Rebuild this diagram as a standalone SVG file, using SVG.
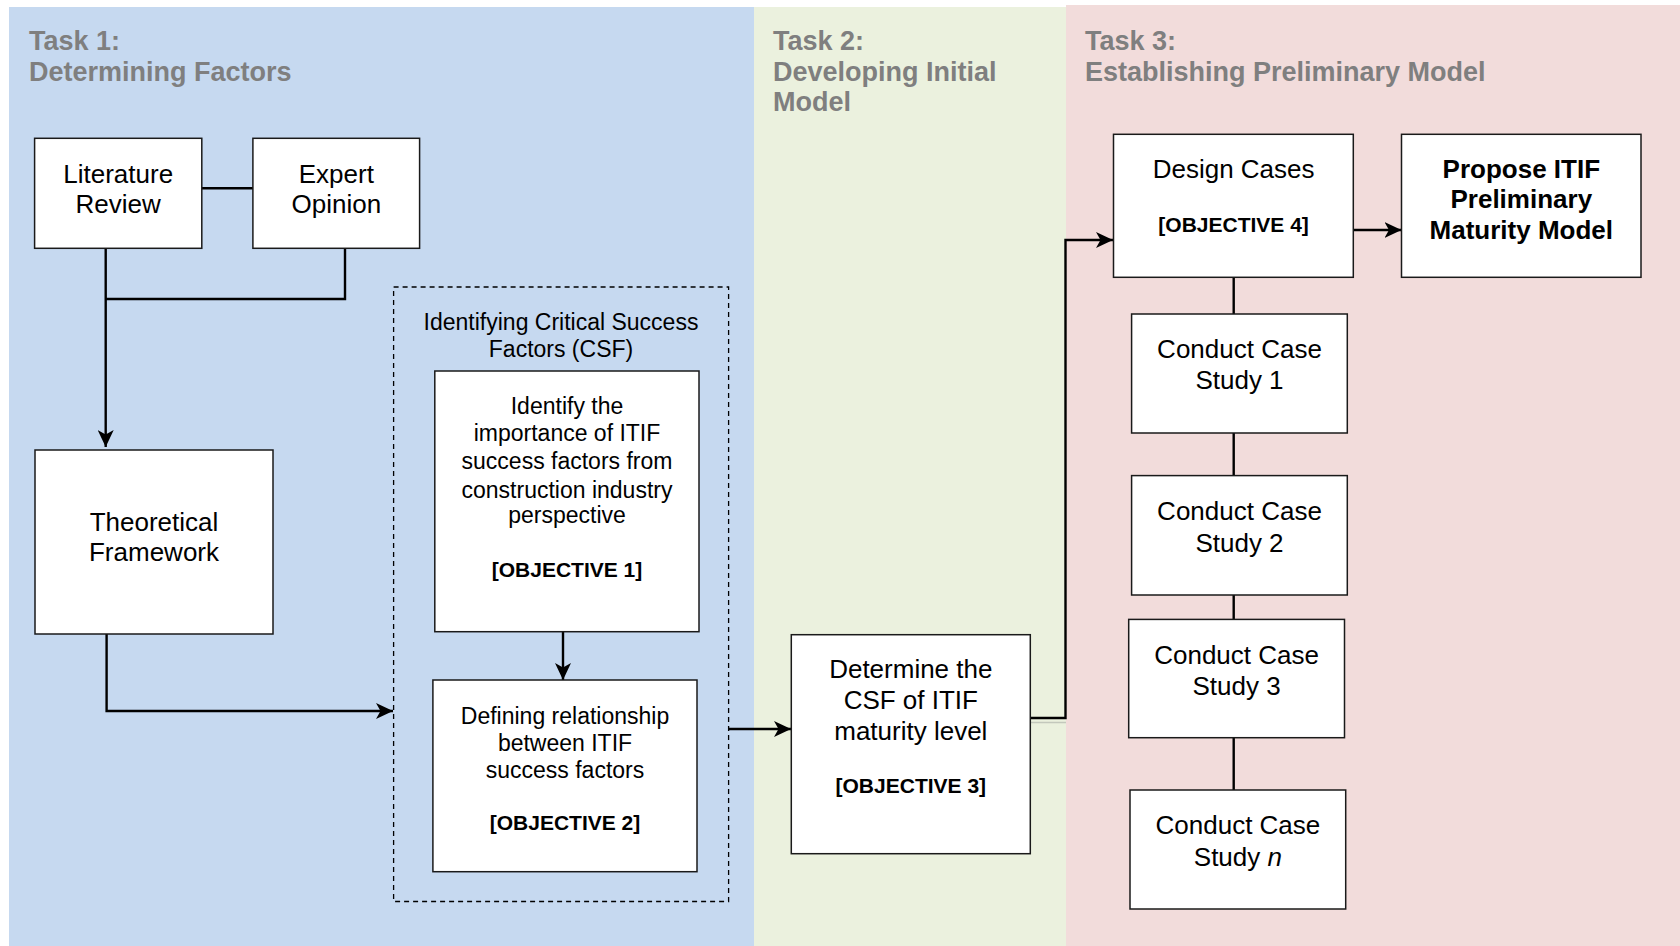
<svg xmlns="http://www.w3.org/2000/svg" width="1680" height="946" viewBox="0 0 1680 946">
<style>
text{font-family:"Liberation Sans",Arial,Helvetica,sans-serif;fill:#000}
.title{font-size:27px;font-weight:bold;fill:#7f7f7f}
.c{text-anchor:middle}
.t26{font-size:26px}
.t23{font-size:23px}
.obj{font-size:21px;font-weight:bold}
.b26{font-size:26px;font-weight:bold}
.box{fill:#fff;stroke:#1a1a1a;stroke-width:1.5}
.ln{fill:none;stroke:#000;stroke-width:2.4}
.arr{fill:none;stroke:#000;stroke-width:2.4;marker-end:url(#ah)}
</style>
<defs>
<marker id="ah" markerUnits="userSpaceOnUse" markerWidth="18" markerHeight="16" refX="17" refY="8" orient="auto">
<path d="M0,0 L17,8 L0,16 L4.5,8 Z" fill="#000"/>
</marker>
</defs>
<rect x="0" y="0" width="1680" height="946" fill="#fff"/>
<g id="panels">
<rect x="9" y="7" width="745" height="939" fill="#c6d9f0"/>
<rect x="754" y="7" width="312" height="939" fill="#ebf1de"/>
<rect x="1066" y="5" width="614" height="941" fill="#f2dcdb"/>
</g>
<g id="titles">
<text class="title" x="29" y="50">Task 1:</text>
<text class="title" x="29" y="81">Determining Factors</text>
<text class="title" x="773" y="50">Task 2:</text>
<text class="title" x="773" y="81">Developing Initial</text>
<text class="title" x="773" y="111">Model</text>
<text class="title" x="1085" y="50">Task 3:</text>
<text class="title" x="1085" y="81">Establishing Preliminary Model</text>
</g>
<g id="csf-group">
<rect x="393.6" y="287" width="335" height="614.5" fill="none" stroke="#000" stroke-width="1.3" stroke-dasharray="5,4"/>
<text class="t23 c" x="561" y="330">Identifying Critical Success</text>
<text class="t23 c" x="561" y="356.5">Factors (CSF)</text>
</g>
<g id="connectors">
<line class="ln" x1="202" y1="188.3" x2="253" y2="188.3"/>
<polyline class="ln" points="345,248.5 345,299 105.7,299"/>
<polyline class="arr" points="105.7,248.5 105.7,447"/>
<polyline class="arr" points="106.6,634 106.6,711 393,711"/>
<line class="arr" x1="563" y1="632" x2="563" y2="680"/>
<line class="arr" x1="729" y1="729" x2="791" y2="729"/>
<polyline class="arr" points="1030.5,718 1065.5,718 1065.5,240 1113,240"/>
<line x1="1031" y1="722.5" x2="1066" y2="722.5" stroke="#c3c8bc" stroke-width="1.5"/>
<line class="arr" x1="1353.5" y1="230" x2="1401.5" y2="230"/>
<line class="ln" x1="1233.7" y1="277.5" x2="1233.7" y2="314"/>
<line class="ln" x1="1233.7" y1="433" x2="1233.7" y2="475.6"/>
<line class="ln" x1="1233.7" y1="595" x2="1233.7" y2="619.4"/>
<line class="ln" x1="1233.7" y1="737.7" x2="1233.7" y2="790"/>
</g>
<g id="literature-review">
<rect class="box" x="34.6" y="138.3" width="167.2" height="110"/>
<text class="t26 c" x="118.2" y="182.7">Literature</text>
<text class="t26 c" x="118.2" y="213">Review</text>
</g>
<g id="expert-opinion">
<rect class="box" x="252.9" y="138.3" width="166.7" height="110"/>
<text class="t26 c" x="336.3" y="182.7">Expert</text>
<text class="t26 c" x="336.3" y="213">Opinion</text>
</g>
<g id="theoretical-framework">
<rect class="box" x="35" y="450" width="238" height="184"/>
<text class="t26 c" x="154" y="530.6">Theoretical</text>
<text class="t26 c" x="154" y="561">Framework</text>
</g>
<g id="objective-1">
<rect class="box" x="434.8" y="371" width="264.2" height="260.7"/>
<text class="t23 c" x="567" y="413.8">Identify the</text>
<text class="t23 c" x="567" y="441.4">importance of ITIF</text>
<text class="t23 c" x="567" y="469">success factors from</text>
<text class="t23 c" x="567" y="497.5">construction industry</text>
<text class="t23 c" x="567" y="523">perspective</text>
<text class="obj c" x="567" y="576.5">[OBJECTIVE 1]</text>
</g>
<g id="objective-2">
<rect class="box" x="432.9" y="680" width="264.1" height="191.7"/>
<text class="t23 c" x="565" y="724">Defining relationship</text>
<text class="t23 c" x="565" y="750.7">between ITIF</text>
<text class="t23 c" x="565" y="778">success factors</text>
<text class="obj c" x="565" y="830">[OBJECTIVE 2]</text>
</g>
<g id="objective-3">
<rect class="box" x="791.3" y="634.7" width="239" height="219"/>
<text class="t26 c" x="910.8" y="678.3">Determine the</text>
<text class="t26 c" x="910.8" y="709">CSF of ITIF</text>
<text class="t26 c" x="910.8" y="740">maturity level</text>
<text class="obj c" x="910.8" y="793.3">[OBJECTIVE 3]</text>
</g>
<g id="design-cases">
<rect class="box" x="1113.5" y="134.3" width="239.8" height="143"/>
<text class="t26 c" x="1233.6" y="178.3">Design Cases</text>
<text class="obj c" x="1233.6" y="231.7">[OBJECTIVE 4]</text>
</g>
<g id="propose-model">
<rect class="box" x="1401.5" y="134.3" width="239.5" height="143"/>
<text class="b26 c" x="1521.3" y="178.3">Propose ITIF</text>
<text class="b26 c" x="1521.3" y="208.3">Preliminary</text>
<text class="b26 c" x="1521.3" y="239.3">Maturity Model</text>
</g>
<g id="case-study-1">
<rect class="box" x="1131.6" y="314" width="215.7" height="119"/>
<text class="t26 c" x="1239.5" y="358">Conduct Case</text>
<text class="t26 c" x="1239.5" y="389">Study 1</text>
</g>
<g id="case-study-2">
<rect class="box" x="1131.6" y="475.6" width="215.7" height="119.4"/>
<text class="t26 c" x="1239.5" y="520">Conduct Case</text>
<text class="t26 c" x="1239.5" y="551.5">Study 2</text>
</g>
<g id="case-study-3">
<rect class="box" x="1128.7" y="619.4" width="215.8" height="118.3"/>
<text class="t26 c" x="1236.6" y="663.6">Conduct Case</text>
<text class="t26 c" x="1236.6" y="695.3">Study 3</text>
</g>
<g id="case-study-n">
<rect class="box" x="1130" y="790" width="215.7" height="119"/>
<text class="t26 c" x="1237.9" y="834">Conduct Case</text>
<text class="t26 c" x="1237.9" y="865.5">Study <tspan font-style="italic">n</tspan></text>
</g>
</svg>
